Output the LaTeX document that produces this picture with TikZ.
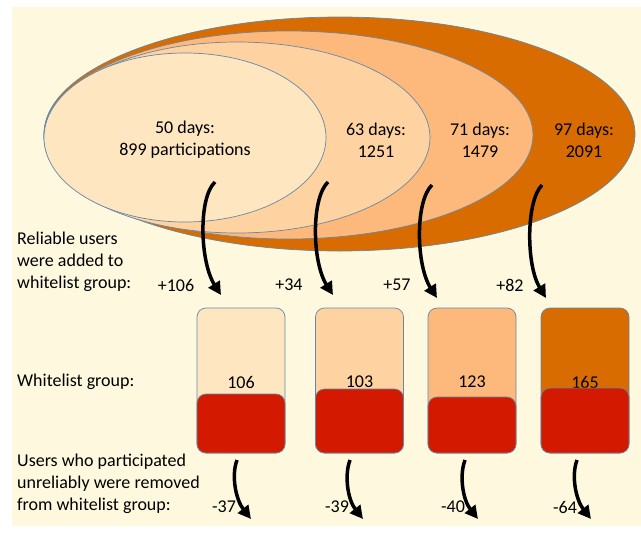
\documentclass[tikz,border=0pt]{standalone}
\usepackage{fontspec}
\setmainfont{Carlito}
\usetikzlibrary{arrows.meta}
\definecolor{paper}{HTML}{FEF9DE}
\definecolor{peach}{HTML}{FEE6C1}
\definecolor{apricot}{HTML}{FED3A1}
\definecolor{tangerine}{HTML}{FDB97B}
\definecolor{rust}{HTML}{D96C00}
\definecolor{dropred}{HTML}{D31A00}
\definecolor{rimblue}{HTML}{6688A6}

\begin{document}
\begin{tikzpicture}[x=1pt, y=-1pt,
  font=\fontsize{18}{22}\selectfont,
  every node/.style={inner sep=0pt},
  rim/.style={draw=rimblue, line width=0.7pt},
  cup/.style={rim, rounded corners=9pt, minimum width=88pt, minimum height=145pt},
  spill/.style={rim, rounded corners=9pt, fill=dropred, minimum width=88pt, anchor=south},
  flow/.style={line width=3.5pt, -{Triangle[length=13pt,width=13pt]}}]
\useasboundingbox (0,0) rectangle (641,536);
\fill[paper] (12,7) rectangle (641,526);

\draw[rim, fill=rust] (339.5,134) ellipse [x radius=295.5, y radius=117];
\draw[rim, fill=tangerine] (288.5,135) ellipse [x radius=244.5, y radius=104];
\draw[rim, fill=apricot] (237,137.5) ellipse [x radius=193, y radius=95.5];
\draw[rim, fill=peach] (185,137.5) ellipse [x radius=141, y radius=84.5];

\node[align=center] (d50) at (185,140) {50 days:\\899 participations};
\node[align=center] (d63) at (376,140) {63 days:\\1251};
\node[align=center] (d71) at (480,140) {71 days:\\1479};
\node[align=center] (d97) at (584,140) {97 days:\\2091};

\node[align=left, anchor=west] (addtxt) at (17,262) {Reliable users\\were added to\\whitelist group:};
\node[anchor=west] (grptxt) at (17,382) {Whitelist group:};
\node[align=left, anchor=west] (deltxt) at (17,484) {Users who participated\\unreliably were removed\\from whitelist group:};

\node (p1) at (176,285) {+106};
\node (p2) at (289,285) {+34};
\node (p3) at (397,285) {+57};
\node (p4) at (510,285) {+82};

\node[cup, fill=peach] (b1) at (241,380.5) {};
\node[cup, fill=apricot] (b2) at (359.5,380.5) {};
\node[cup, fill=tangerine] (b3) at (472,380.5) {};
\node[cup, fill=rust] (b4) at (585,380.5) {};

\node (n1) at (241,382) {106};
\node (n2) at (359.5,382) {103};
\node (n3) at (472,382) {123};
\node (n4) at (585,382) {165};

\node[spill, minimum height=59pt] (r1) at (b1.south) {};
\node[spill, minimum height=64pt] (r2) at (b2.south) {};
\node[spill, minimum height=56pt] (r3) at (b3.south) {};
\node[spill, minimum height=65pt] (r4) at (b4.south) {};

\node (m1) at (224,507) {-37};
\node (m2) at (337,507) {-39};
\node (m3) at (453,507) {-40};
\node (m4) at (565,507) {-64};

\coordinate (in1) at (215,182);
\coordinate (in2) at (328,182);
\coordinate (in3) at (432,185);
\coordinate (in4) at (542,185);
\coordinate (to1) at (221,295);
\coordinate (to2) at (333,295);
\coordinate (to3) at (437,298);
\coordinate (to4) at (546,298);
\draw[flow] (in1) .. controls (198,198) and (200,262) .. (to1);
\draw[flow] (in2) .. controls (311,198) and (312,262) .. (to2);
\draw[flow] (in3) .. controls (415,201) and (416,265) .. (to3);
\draw[flow] (in4) .. controls (526,201) and (526,265) .. (to4);

\coordinate (out1) at (237,460);
\coordinate (out2) at (350,460);
\coordinate (out3) at (465,460);
\coordinate (out4) at (577,460);
\coordinate (gone1) at (251,519);
\coordinate (gone2) at (363,519);
\coordinate (gone3) at (478,519);
\coordinate (gone4) at (591,519);
\draw[flow] (out1) .. controls (231,476) and (236,500) .. (gone1);
\draw[flow] (out2) .. controls (344,476) and (348,500) .. (gone2);
\draw[flow] (out3) .. controls (459,476) and (463,500) .. (gone3);
\draw[flow] (out4) .. controls (571,476) and (576,500) .. (gone4);
\end{tikzpicture}
\end{document}
